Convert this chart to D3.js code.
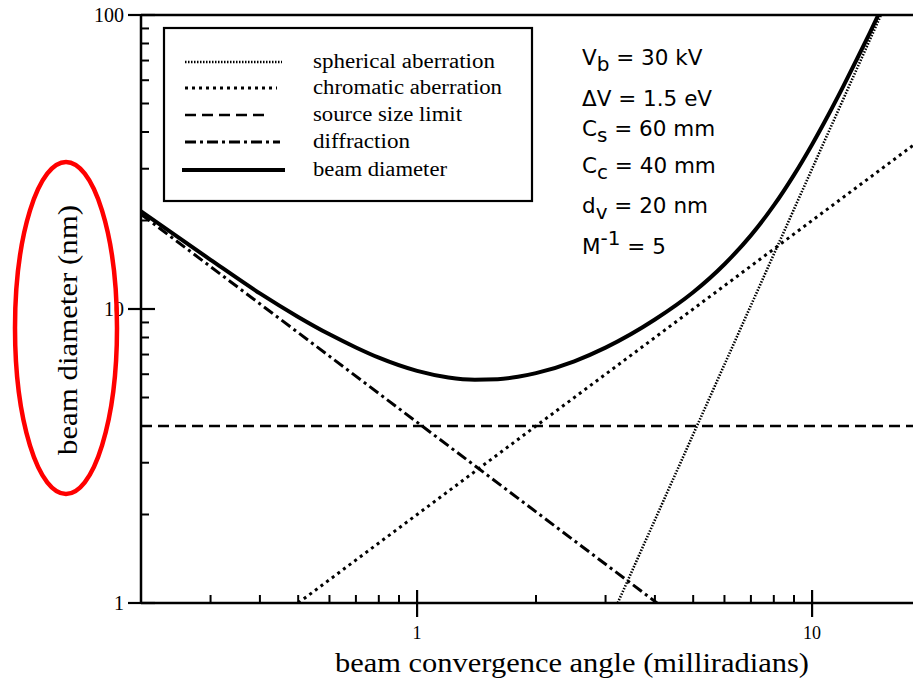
<!DOCTYPE html>
<html><head><meta charset="utf-8">
<script src="https://cdn.jsdelivr.net/npm/d3@7/dist/d3.min.js"></script>
<style>
html,body{margin:0;padding:0;background:#fff;}
svg{display:block;}
</style></head>
<body>
<svg id="chart" width="913" height="678"></svg>
<script>
// ---- data ----
const xDomain = [0.2, 20];          // beam convergence angle (mrad)
const yDomain = [1, 100];           // beam diameter (nm)
const xMajorTicks = [1, 10];
const yMajorTicks = [1, 10, 100];
const xMinorTicks = [0.3,0.4,0.5,0.6,0.7,0.8,0.9,2,3,4,5,6,7,8,9,20];
const yMinorTicks = [2,3,4,5,6,7,8,9,20,30,40,50,60,70,80,90];

const sphericalAngle = [3.22, 20];
const sphericalDiam  = [1, 240];
const chromaticAngle = [0.5, 20];
const chromaticDiam  = [1, 40];
const sourceAngle    = [0.2, 20];
const sourceDiam     = [4, 4];
const diffractionAngle = [0.2, 4.05];
const diffractionDiam  = [21.0, 1];
const beamAngle = [0.2,0.3,0.4,0.5,0.6,0.7,0.8,1.0,1.2,1.4,1.6,1.8,2.0,2.5,3,4,5,6,7,8,9,10,11,12,13,14,15];
const beamDiam  = [21.5,14.7,11.3,9.40,8.20,7.40,6.83,6.16,5.85,5.75,5.77,5.88,6.05,6.64,7.39,9.21,11.4,14.2,17.8,22.5,28.6,36.3,45.8,57.3,71.0,87.0,105.7];

const legendLabels = ["spherical aberration","chromatic aberration","source size limit","diffraction","beam diameter"];

// ---- drawing ----
const svg = d3.select("#chart");
const x = d3.scaleLog().domain(xDomain).range([141, 931]);
const y = d3.scaleLog().domain(yDomain).range([603, 15]);
const serif = "'Liberation Serif', 'Times New Roman', serif";
const sans = "'DejaVu Sans', Arial, sans-serif";

svg.append("defs").append("clipPath").attr("id","clip")
  .append("rect").attr("x",141).attr("y",15).attr("width",913-141).attr("height",603-15);

const styles = [
  {dash:"1.5,1.5", w:2.6},
  {dash:"3,4", w:3},
  {dash:"11,6", w:2.6},
  {dash:"11,4,3,4", w:3},
  {dash:null, w:4}
];

const series = [
  d3.zip(sphericalAngle, sphericalDiam),
  d3.zip(chromaticAngle, chromaticDiam),
  d3.zip(sourceAngle, sourceDiam),
  d3.zip(diffractionAngle, diffractionDiam),
  d3.zip(beamAngle, beamDiam)
];

const line = d3.line().x(d=>x(d[0])).y(d=>y(d[1])).curve(d3.curveMonotoneX);
const g = svg.append("g").attr("clip-path","url(#clip)");
series.forEach((s,i)=>{
  g.append("path").attr("d", line(s)).attr("fill","none").attr("stroke","#000")
   .attr("stroke-width", styles[i].w)
   .attr("stroke-dasharray", styles[i].dash)
   .attr("stroke-linejoin","round");
});

// axes
const ax = svg.append("g").attr("stroke","#000");
ax.append("line").attr("x1",141).attr("x2",141).attr("y1",15).attr("y2",603).attr("stroke-width",2.5);
ax.append("line").attr("x1",141).attr("x2",913).attr("y1",603).attr("y2",603).attr("stroke-width",2.5);
ax.append("line").attr("x1",141).attr("x2",913).attr("y1",15).attr("y2",15).attr("stroke-width",2.5);

yMajorTicks.forEach(v=>{
  ax.append("line").attr("x1",128).attr("x2",155).attr("y1",y(v)).attr("y2",y(v)).attr("stroke-width",2.2);
});
yMinorTicks.forEach(v=>{
  ax.append("line").attr("x1",141).attr("x2",149).attr("y1",y(v)).attr("y2",y(v)).attr("stroke-width",2);
});
xMajorTicks.forEach(v=>{
  ax.append("line").attr("x1",x(v)).attr("x2",x(v)).attr("y1",590).attr("y2",617).attr("stroke-width",2.2);
});
xMinorTicks.forEach(v=>{
  if (x(v) < 913) ax.append("line").attr("x1",x(v)).attr("x2",x(v)).attr("y1",595).attr("y2",603).attr("stroke-width",2);
});

// tick labels
const tl = svg.append("g").attr("font-family", serif).attr("font-size",20).attr("fill","#000");
yMajorTicks.forEach(v=>{
  tl.append("text").attr("x",124).attr("y",y(v)+7).attr("text-anchor","end").text(d3.format("d")(v));
});
xMajorTicks.forEach(v=>{
  tl.append("text").attr("x",x(v)).attr("y",639).attr("font-size",18).attr("text-anchor","middle").text(d3.format("d")(v));
});

// axis titles
svg.append("text").attr("x",335).attr("y",672)
  .attr("font-family",serif).attr("font-size",27)
  .attr("textLength",474).attr("lengthAdjust","spacingAndGlyphs")
  .text("beam convergence angle (milliradians)");
svg.append("text").attr("transform","translate(77,455) rotate(-90)")
  .attr("font-family",serif).attr("font-size",27)
  .attr("textLength",250).attr("lengthAdjust","spacingAndGlyphs")
  .text("beam diameter (nm)");

// red ellipse
svg.append("ellipse").attr("cx",66).attr("cy",328).attr("rx",51).attr("ry",166)
  .attr("fill","none").attr("stroke","#ff0000").attr("stroke-width",4.5);

// legend
const lg = svg.append("g");
lg.append("rect").attr("x",164).attr("y",28).attr("width",368).attr("height",173)
  .attr("fill","#fff").attr("stroke","#000").attr("stroke-width",2.2);
const rowsY = [62, 88, 115, 142, 170];
const sampleX2 = [282, 277, 270, 280, 285];
const labelW = [182, 189, 149, 97, 134];
legendLabels.forEach((lab,i)=>{
  lg.append("line").attr("x1", i===4?182:185).attr("x2",sampleX2[i]).attr("y1",rowsY[i]).attr("y2",rowsY[i])
    .attr("stroke","#000").attr("stroke-width",styles[i].w).attr("stroke-dasharray",styles[i].dash);
  lg.append("text").attr("x",313).attr("y",rowsY[i]+6).attr("font-family",serif).attr("font-size",20)
    .attr("textLength",labelW[i]).attr("lengthAdjust","spacingAndGlyphs").text(lab);
});

// parameters
const pg = svg.append("g").attr("font-family",sans).attr("font-size",21.5).attr("fill","#000");
function param(yb, main, sub, rest, sup){
  const t = pg.append("text").attr("x",582).attr("y",yb);
  t.append("tspan").text(main);
  if (sub) t.append("tspan").attr("dy",6).attr("font-size",20).text(sub);
  if (sup) t.append("tspan").attr("dy",-9).attr("font-size",20).text(sup);
  t.append("tspan").attr("dy", sub?-6:(sup?9:0)).text(rest);
}
param(65, "V", "b", " = 30 kV");
param(106, "\u0394V = 1.5 eV", null, "");
param(136, "C", "s", " = 60 mm");
param(173, "C", "c", " = 40 mm");
param(213, "d", "v", " = 20 nm");
param(254, "M", null, " = 5", "-1");
</script>
</body></html>
